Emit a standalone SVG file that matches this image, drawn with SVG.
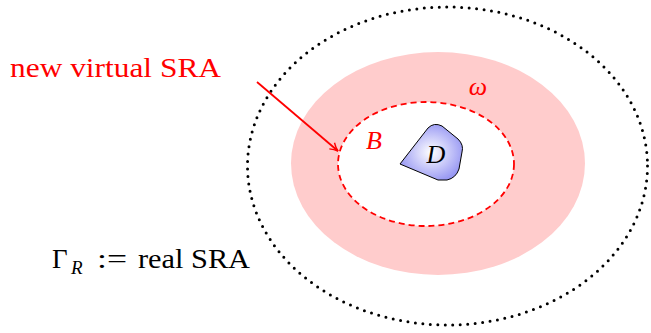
<svg xmlns="http://www.w3.org/2000/svg" width="651" height="333" viewBox="0 0 651 333">
<defs>
<radialGradient id="dg" cx="0.5" cy="0.5" r="0.6">
<stop offset="0" stop-color="#ffffff"/>
<stop offset="1" stop-color="#8c8cf2"/>
</radialGradient>
<marker id="ah" viewBox="0 0 10 10" refX="9" refY="5" markerWidth="10" markerHeight="10" markerUnits="userSpaceOnUse" orient="auto">
<path d="M1,1 Q5,4 9,5 Q5,6 1,9" fill="none" stroke="#ff0000" stroke-width="1.4"/>
</marker>
<style>
text{font-family:"Liberation Serif","DejaVu Serif",serif}
.red{fill:#ff0000}
.it{font-style:italic}
</style>
</defs>
<rect width="651" height="333" fill="#ffffff"/>
<g id="outer">
<ellipse cx="447.5" cy="166" rx="200" ry="159" fill="none" stroke="#000" stroke-width="3" stroke-linecap="round" stroke-dasharray="0 7.5"/>
</g>
<g id="omega-region">
<ellipse cx="438" cy="163.5" rx="147" ry="111.5" fill="#ffcccc"/>
</g>
<g id="B-region">
<ellipse cx="426" cy="164" rx="88" ry="62" fill="#ffffff" stroke="#ff0000" stroke-width="1.8" stroke-dasharray="6 4"/>
</g>
<g id="D">
<path d="M400,164 L428,128 Q434,122 442,126 L458,139 Q464,145 462,152 L459,169 Q456,178 447,180 L438,180 Z" fill="url(#dg)" stroke="#000" stroke-width="1"/>
<text x="436" y="163" class="it" font-size="26" text-anchor="middle">D</text>
</g>
<g id="connectors">
<line x1="257" y1="82" x2="338" y2="151" stroke="#ff0000" stroke-width="1.8" marker-end="url(#ah)"/>
</g>
<g id="labels">
<text x="10" y="77" class="red" font-size="28" textLength="211" lengthAdjust="spacingAndGlyphs">new virtual SRA</text>
<text x="374" y="149" class="red it" font-size="26" text-anchor="middle">B</text>
<text x="478" y="95" class="red it" font-size="26" text-anchor="middle">ω</text>
<text x="52" y="268" font-size="27">Γ</text>
<text x="71" y="274" class="it" font-size="19">R</text>
<text x="97" y="268" font-size="27" textLength="30" lengthAdjust="spacingAndGlyphs">:=</text>
<text x="138" y="268" font-size="27" textLength="112" lengthAdjust="spacingAndGlyphs">real SRA</text>
</g>
</svg>
